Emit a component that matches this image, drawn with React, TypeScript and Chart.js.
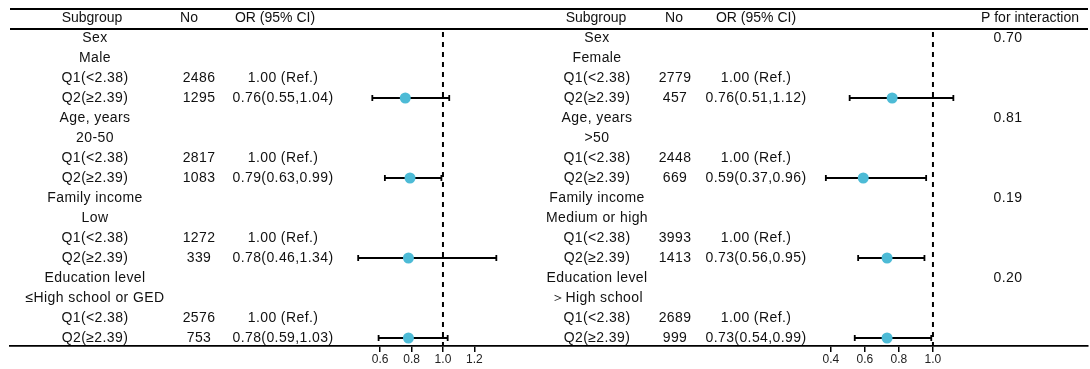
import React, { useEffect, useRef } from 'react';
import { Chart, registerables } from 'chart.js';

Chart.register(...registerables);

const FONT = '"Liberation Sans", Arial, Helvetica, sans-serif';

// ---------- data ----------
const leftSubgroups = ['Sex', 'Male', 'Q1(<2.38)', 'Q2(≥2.39)', 'Age, years', '20-50', 'Q1(<2.38)', 'Q2(≥2.39)', 'Family income', 'Low', 'Q1(<2.38)', 'Q2(≥2.39)', 'Education level', '≤High school or GED', 'Q1(<2.38)', 'Q2(≥2.39)'];
const leftN = ['', '', '2486', '1295', '', '', '2817', '1083', '', '', '1272', '339', '', '', '2576', '753'];
const leftORText = ['', '', '1.00 (Ref.)', '0.76(0.55,1.04)', '', '', '1.00 (Ref.)', '0.79(0.63,0.99)', '', '', '1.00 (Ref.)', '0.78(0.46,1.34)', '', '', '1.00 (Ref.)', '0.78(0.59,1.03)'];
const leftOR = [null, null, null, 0.76, null, null, null, 0.79, null, null, null, 0.78, null, null, null, 0.78];
const leftLow = [null, null, null, 0.55, null, null, null, 0.63, null, null, null, 0.46, null, null, null, 0.59];
const leftHigh = [null, null, null, 1.04, null, null, null, 0.99, null, null, null, 1.34, null, null, null, 1.03];
const leftTicks = [0.6, 0.8, 1.0, 1.2];

const rightSubgroups = ['Sex', 'Female', 'Q1(<2.38)', 'Q2(≥2.39)', 'Age, years', '>50', 'Q1(<2.38)', 'Q2(≥2.39)', 'Family income', 'Medium or high', 'Q1(<2.38)', 'Q2(≥2.39)', 'Education level', '＞High school', 'Q1(<2.38)', 'Q2(≥2.39)'];
const rightN = ['', '', '2779', '457', '', '', '2448', '669', '', '', '3993', '1413', '', '', '2689', '999'];
const rightORText = ['', '', '1.00 (Ref.)', '0.76(0.51,1.12)', '', '', '1.00 (Ref.)', '0.59(0.37,0.96)', '', '', '1.00 (Ref.)', '0.73(0.56,0.95)', '', '', '1.00 (Ref.)', '0.73(0.54,0.99)'];
const rightOR = [null, null, null, 0.76, null, null, null, 0.59, null, null, null, 0.73, null, null, null, 0.73];
const rightLow = [null, null, null, 0.51, null, null, null, 0.37, null, null, null, 0.56, null, null, null, 0.54];
const rightHigh = [null, null, null, 1.12, null, null, null, 0.96, null, null, null, 0.95, null, null, null, 0.99];
const rightP = ['0.70', '', '', '', '0.81', '', '', '', '0.19', '', '', '', '0.20', '', '', ''];
const rightTicks = [0.4, 0.6, 0.8, 1.0];

const leftHeaders = ['Subgroup', 'No', 'OR (95% CI)'];
const rightHeaders = ['Subgroup', 'No', 'OR (95% CI)', 'P for interaction'];

// ---------- layout (not data) ----------
type PanelCfg = {
  subgroups: string[];
  n: string[];
  orText: string[];
  or: (number | null)[];
  low: (number | null)[];
  high: (number | null)[];
  p?: string[];
  ticks: number[];
  headers: string[];
  headerX: number[];
  colX: number[];
  xMin: number;
  xMax: number;
  padLeft: number;
  padRight: number;
};

const leftPanel: PanelCfg = {
  subgroups: leftSubgroups, n: leftN, orText: leftORText, or: leftOR, low: leftLow, high: leftHigh,
  ticks: leftTicks, headers: leftHeaders,
  headerX: [92, 189, 275], colX: [95, 199, 283],
  xMin: -1.758, xMax: 1.65, padLeft: 10, padRight: 0,
};

const rightPanel: PanelCfg = {
  subgroups: rightSubgroups, n: rightN, orText: rightORText, or: rightOR, low: rightLow, high: rightHigh, p: rightP,
  ticks: rightTicks, headers: rightHeaders,
  headerX: [51, 129, 211, 485], colX: [52, 130, 211, 463],
  xMin: -1.282, xMax: 1.912, padLeft: 0, padRight: 2,
};

const TEXT_COLOR = '#111';
const POINT_COLOR = '#4DBBD6';

function makePlugin(cfg: PanelCfg) {
  return {
    id: 'forestTable',
    beforeDatasetsDraw(chart: any) {
      const ctx = chart.ctx;
      const xs = chart.scales.x;
      const ys = chart.scales.y;
      const area = chart.chartArea;
      ctx.save();
      // reference dashed line at OR = 1
      const x1 = xs.getPixelForValue(1);
      ctx.strokeStyle = '#000';
      ctx.lineWidth = 2;
      ctx.setLineDash([5, 5]);
      ctx.beginPath();
      ctx.moveTo(x1, area.top + 2);
      ctx.lineTo(x1, area.bottom);
      ctx.stroke();
      ctx.setLineDash([]);
      // CI bars
      ctx.lineWidth = 1.8;
      for (let i = 0; i < cfg.or.length; i++) {
        const lo = cfg.low[i];
        const hi = cfg.high[i];
        if (lo == null || hi == null) continue;
        const y = ys.getPixelForValue(i);
        const a = xs.getPixelForValue(lo);
        const b = xs.getPixelForValue(hi);
        ctx.beginPath();
        ctx.moveTo(a, y);
        ctx.lineTo(b, y);
        ctx.moveTo(a, y - 3);
        ctx.lineTo(a, y + 3);
        ctx.moveTo(b, y - 3);
        ctx.lineTo(b, y + 3);
        ctx.stroke();
      }
      ctx.restore();
    },
    afterDraw(chart: any) {
      const ctx = chart.ctx;
      const ys = chart.scales.y;
      const area = chart.chartArea;
      ctx.save();
      // top rules
      ctx.strokeStyle = '#000';
      ctx.lineWidth = 2;
      ctx.beginPath();
      const yTop = ys.getPixelForValue(-1.45);
      ctx.moveTo(area.left, yTop);
      ctx.lineTo(area.right, yTop);
      ctx.stroke();
      ctx.lineWidth = 1.8;
      ctx.beginPath();
      ctx.moveTo(area.left, area.top - 1);
      ctx.lineTo(area.right, area.top - 1);
      ctx.stroke();
      // text
      ctx.fillStyle = TEXT_COLOR;
      ctx.font = `14px ${FONT}`;
      ctx.textAlign = 'center';
      ctx.textBaseline = 'middle';
      const yh = ys.getPixelForValue(-1);
      cfg.headers.forEach((h, k) => ctx.fillText(h, cfg.headerX[k], yh));
      (ctx as any).letterSpacing = '0.4px';
      for (let i = 0; i < cfg.subgroups.length; i++) {
        const y = ys.getPixelForValue(i);
        ctx.fillText(cfg.subgroups[i], cfg.colX[0], y);
        if (cfg.n[i]) ctx.fillText(cfg.n[i], cfg.colX[1], y);
        if (cfg.orText[i]) ctx.fillText(cfg.orText[i], cfg.colX[2], y);
        if (cfg.p && cfg.p[i]) ctx.fillText(cfg.p[i], cfg.colX[3], y);
      }
      (ctx as any).letterSpacing = '0px';
      ctx.restore();
    },
  };
}

function Panel({ cfg }: { cfg: PanelCfg }) {
  const ref = useRef<HTMLCanvasElement | null>(null);
  useEffect(() => {
    if (!ref.current) return;
    const points = cfg.or
      .map((v, i) => (v == null ? null : { x: v, y: i }))
      .filter((p) => p !== null);
    const chart = new Chart(ref.current, {
      type: 'scatter',
      data: {
        datasets: [
          {
            data: points as any,
            pointRadius: 5.5,
            pointHoverRadius: 5.5,
            backgroundColor: POINT_COLOR,
            borderWidth: 0,
          },
        ],
      },
      options: {
        animation: false,
        responsive: false,
        events: [],
        layout: { autoPadding: false, padding: { top: 30, left: cfg.padLeft, right: cfg.padRight, bottom: 0 } },
        plugins: { legend: { display: false }, tooltip: { enabled: false } },
        scales: {
          x: {
            type: 'linear',
            min: cfg.xMin,
            max: cfg.xMax,
            afterBuildTicks: (s: any) => {
              s.ticks = cfg.ticks.map((v) => ({ value: v }));
            },
            afterFit: (s: any) => {
              s.height = 23;
            },
            ticks: {
              padding: 0,
              autoSkip: false,
              maxRotation: 0,
              color: '#222',
              font: { family: FONT, size: 12 },
              callback: (v: any) => Number(v).toFixed(1),
            },
            grid: { drawOnChartArea: false, drawTicks: true, tickLength: 6, color: '#000', lineWidth: 1.5 },
            border: { display: true, color: '#000', width: 1.8 },
          },
          y: { type: 'linear', reverse: true, min: -0.4, max: 15.4, display: false },
        },
      } as any,
      plugins: [makePlugin(cfg)],
    });
    return () => chart.destroy();
  }, [cfg]);
  return <canvas ref={ref} width={545} height={369} style={{ display: 'block' }} />;
}

export default function App() {
  return (
    <div style={{ position: 'absolute', left: 0, top: 0, width: 1090, height: 369, display: 'flex', background: '#fff' }}>
      <Panel cfg={leftPanel} />
      <Panel cfg={rightPanel} />
    </div>
  );
}
